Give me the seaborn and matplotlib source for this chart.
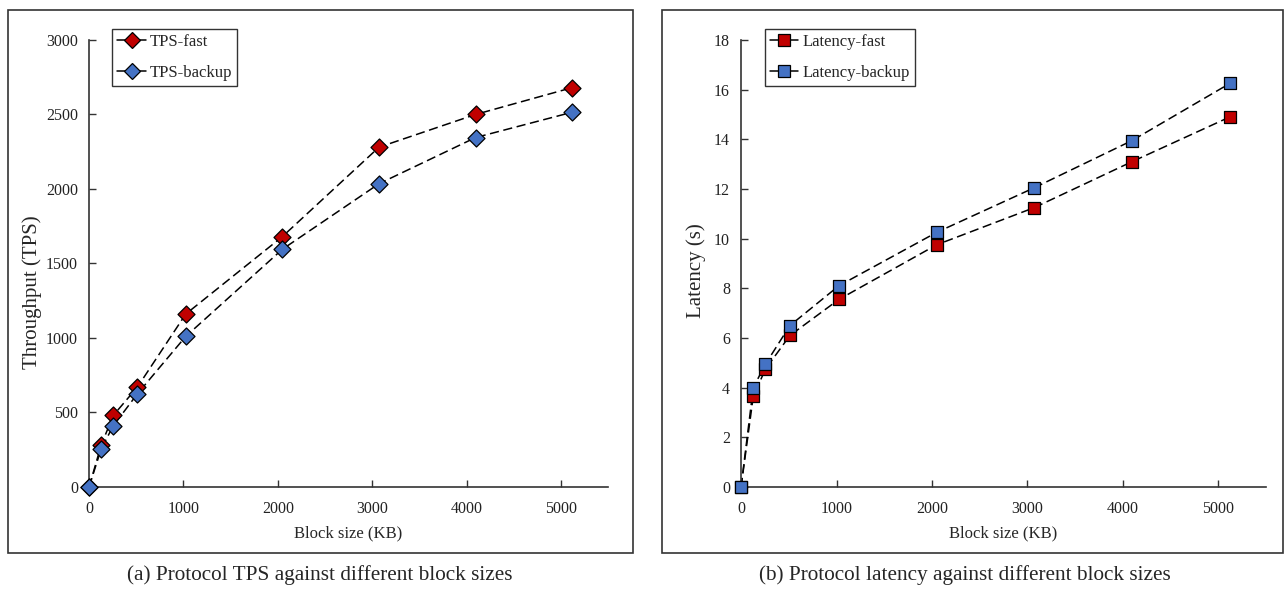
import numpy as np
import pandas as pd
import matplotlib
matplotlib.use('Agg')
import matplotlib.pyplot as plt
import seaborn as sns
from matplotlib.lines import Line2D
from matplotlib.patches import Rectangle

# Данные
block_kb = [0, 128, 256, 512, 1024, 2048, 3072, 4096, 5120]
tps_fast = [0, 280, 480, 670, 1160, 1680, 2280, 2500, 2680]
tps_backup = [0, 255, 410, 625, 1010, 1595, 2035, 2345, 2515]
lat_fast = [0, 3.65, 4.75, 6.1, 7.55, 9.75, 11.25, 13.1, 14.9]
lat_backup = [0, 4.0, 4.95, 6.5, 8.1, 10.25, 12.05, 13.95, 16.25]

red = '#C00000'
blue = '#4472C4'

sns.set_style('ticks')
plt.rcParams['font.family'] = ['Liberation Serif', 'DejaVu Serif']
plt.rcParams['xtick.direction'] = 'in'
plt.rcParams['ytick.direction'] = 'in'

fig = plt.figure(figsize=(12.87, 5.89), dpi=100)

# Рамки вокруг панелей
for x0, w in [(0.0062, 0.4855), (0.5144, 0.4826)]:
    fig.patches.append(Rectangle((x0, 0.061), w, 0.922, transform=fig.transFigure,
                                 fill=False, edgecolor='#333333', linewidth=1.2))

ax1 = fig.add_axes([0.0692, 0.1732, 0.4033, 0.759])
ax2 = fig.add_axes([0.5758, 0.1732, 0.408, 0.759])

def draw(ax, ys, labels, marker, ylim, yticks, ylabel, ylab_xy):
    handles = []
    for y, lab, col in zip(ys, labels, [red, blue]):
        d = pd.DataFrame({'x': block_kb, 'y': y})
        sns.lineplot(data=d, x='x', y='y', ax=ax, color='black', linewidth=1.1,
                     linestyle=(0, (6, 3)), legend=False)
        sns.scatterplot(data=d, x='x', y='y', ax=ax, marker=marker, s=75,
                        color=col, edgecolor='black', linewidth=0.9, legend=False, zorder=3)
        handles.append(Line2D([], [], color='black', linewidth=1.1, marker=marker,
                              markersize=8, markerfacecolor=col, markeredgecolor='black',
                              markeredgewidth=0.9, label=lab))
    ax.set_xlim(0, 5500)
    ax.set_ylim(*ylim)
    ax.set_xticks([0, 1000, 2000, 3000, 4000, 5000])
    ax.set_yticks(yticks)
    ax.tick_params(labelsize=11.5, length=5, width=1, color='#333333', labelcolor='#222222')
    ax.tick_params(axis='y', pad=8)
    ax.tick_params(axis='x', pad=10)
    ax.set_xlabel('Block size (KB)', fontsize=12, labelpad=6)
    ax.set_ylabel(ylabel, fontsize=15)
    ax.yaxis.set_label_coords(*ylab_xy)
    sns.despine(ax=ax)
    for s in ['left', 'bottom']:
        ax.spines[s].set_color('#333333')
        ax.spines[s].set_linewidth(1.2)
    leg = ax.legend(handles=handles, loc='upper left', bbox_to_anchor=(0.045, 1.025),
                    fontsize=12, frameon=True, fancybox=False, handlelength=1.7,
                    handletextpad=0.25, borderpad=0.3, labelspacing=0.9, borderaxespad=0)
    leg.get_frame().set_edgecolor('black')
    leg.get_frame().set_linewidth(1.0)
    for a in ax.collections:
        a.set_clip_on(False)

draw(ax1, [tps_fast, tps_backup], ['TPS-fast', 'TPS-backup'], 'D', (0, 3000),
     [0, 500, 1000, 1500, 2000, 2500, 3000], 'Throughput (TPS)', (-0.091, 0.436))
draw(ax2, [lat_fast, lat_backup], ['Latency-fast', 'Latency-backup'], 's', (0, 18),
     [0, 2, 4, 6, 8, 10, 12, 14, 16, 18], 'Latency (s)', (-0.066, 0.485))

fig.text(0.2487, 0.024, '(a) Protocol TPS against different block sizes', ha='center',
         va='center', fontsize=15.3)
fig.text(0.75, 0.024, '(b) Protocol latency against different block sizes', ha='center',
         va='center', fontsize=15.3)

fig.savefig('out.png', dpi=100)
